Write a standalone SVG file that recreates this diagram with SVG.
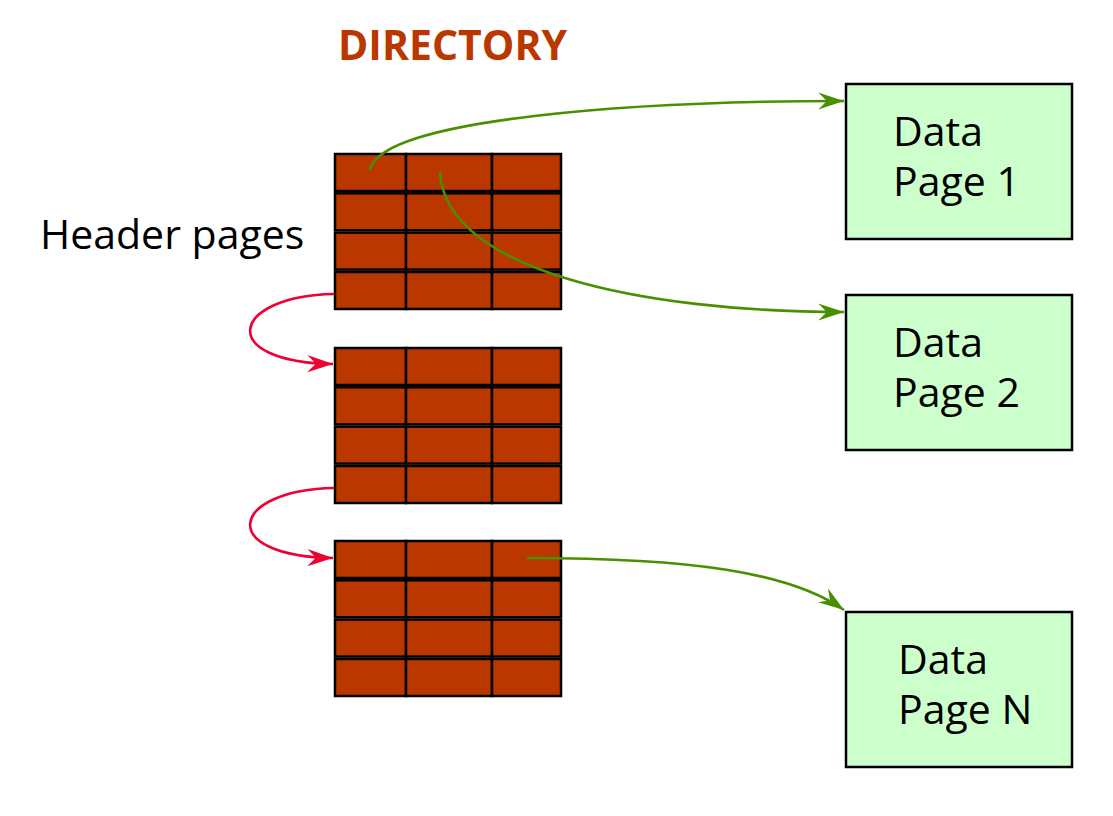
<svg xmlns="http://www.w3.org/2000/svg" width="1113" height="816" viewBox="0 0 1113 816">
<defs>
<style>
.cell{fill:#bb3700;stroke:#000;stroke-width:2.5}
.data{fill:#ccffcc;stroke:#000;stroke-width:2.5}
.t{font-family:"Open Sans","Noto Sans",sans-serif;font-size:41px;fill:#000}
.g{fill:none;stroke:#4a8f00;stroke-width:2.6}
.r{fill:none;stroke:#ee0033;stroke-width:2.6}
</style>
<marker id="ag" markerUnits="userSpaceOnUse" markerWidth="30" markerHeight="20" viewBox="-26 -9 28 18" refX="0" refY="0" orient="auto">
<path d="M0,0 L-24,-8 L-16,0 L-24,8 Z" fill="#4a8f00"/>
</marker>
<marker id="ar" markerUnits="userSpaceOnUse" markerWidth="30" markerHeight="20" viewBox="-26 -9 28 18" refX="0" refY="0" orient="auto">
<path d="M0,0 L-24,-8 L-16,0 L-24,8 Z" fill="#ee0033"/>
</marker>
<g id="grid">
<rect class="cell" x="335" y="0" width="71" height="37"/>
<rect class="cell" x="406" y="0" width="86" height="37"/>
<rect class="cell" x="492" y="0" width="69" height="37"/>
<rect class="cell" x="335" y="39.3" width="71" height="37"/>
<rect class="cell" x="406" y="39.3" width="86" height="37"/>
<rect class="cell" x="492" y="39.3" width="69" height="37"/>
<rect class="cell" x="335" y="78.6" width="71" height="37"/>
<rect class="cell" x="406" y="78.6" width="86" height="37"/>
<rect class="cell" x="492" y="78.6" width="69" height="37"/>
<rect class="cell" x="335" y="118" width="71" height="37"/>
<rect class="cell" x="406" y="118" width="86" height="37"/>
<rect class="cell" x="492" y="118" width="69" height="37"/>
</g>
</defs>
<rect width="1113" height="816" fill="#fff"/>
<text x="338" y="60" class="t" style="font-weight:bold;fill:#bb3700">DIRECTORY</text>
<text x="40" y="249" class="t">Header pages</text>
<g id="header1"><use href="#grid" y="154"/></g>
<g id="header2"><use href="#grid" y="348"/></g>
<g id="header3"><use href="#grid" y="541"/></g>
<g id="data1"><rect class="data" x="846" y="84" width="226" height="155"/><text class="t" x="893" y="146">Data</text><text class="t" x="893" y="196">Page 1</text></g>
<g id="data2"><rect class="data" x="846" y="295" width="226" height="155"/><text class="t" x="893" y="357">Data</text><text class="t" x="893" y="407">Page 2</text></g>
<g id="dataN"><rect class="data" x="846" y="612" width="226" height="155"/><text class="t" x="898" y="674">Data</text><text class="t" x="898" y="724">Page N</text></g>
<g id="connectors">
<path class="g" d="M370,170 C380,118 640,101 844,101" marker-end="url(#ag)"/>
<path class="g" d="M440,172 C445,270 640,312 844,312" marker-end="url(#ag)"/>
<path class="g" d="M527,558 C690,558 790,572 844,610" marker-end="url(#ag)"/>
<path class="r" d="M334,294 C230,296 215,362 333,364" marker-end="url(#ar)"/>
<path class="r" d="M334,488 C230,490 215,556 333,558" marker-end="url(#ar)"/>
</g>
</svg>
